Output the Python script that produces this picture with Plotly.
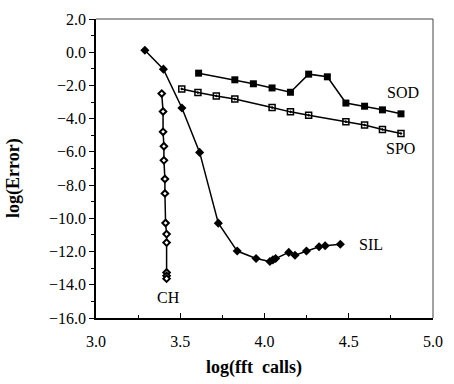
import plotly.graph_objects as go

SIL_x = [3.29, 3.40, 3.51, 3.615, 3.726, 3.838, 3.95, 4.032, 4.05, 4.066, 4.144, 4.181, 4.249, 4.324, 4.36, 4.45]
SIL_y = [0.12, -1.02, -3.36, -6.03, -10.29, -11.97, -12.42, -12.6, -12.5, -12.42, -12.05, -12.22, -11.97, -11.71, -11.65, -11.56]

CH_x = [3.39, 3.398, 3.398, 3.403, 3.403, 3.409, 3.409, 3.413, 3.419, 3.419, 3.419, 3.419, 3.419]
CH_y = [-2.49, -3.57, -4.79, -5.66, -6.51, -7.63, -8.5, -10.28, -10.95, -11.46, -13.26, -13.46, -13.63]

SOD_x = [3.609, 3.824, 3.934, 4.045, 4.154, 4.262, 4.373, 4.483, 4.594, 4.70, 4.81]
SOD_y = [-1.26, -1.66, -1.90, -2.15, -2.41, -1.32, -1.48, -3.06, -3.25, -3.47, -3.71]

SPO_x = [3.509, 3.605, 3.714, 3.824, 4.045, 4.154, 4.262, 4.483, 4.594, 4.70, 4.81]
SPO_y = [-2.21, -2.43, -2.63, -2.82, -3.33, -3.59, -3.79, -4.18, -4.38, -4.65, -4.89]

series_labels = ["SOD", "SPO", "SIL", "CH"]
label_x = [4.82, 4.81, 4.63, 3.43]
label_y = [-2.45, -5.8, -11.55, -14.75]

FONT = "Liberation Serif, Times New Roman, serif"
LINE = dict(color="black", width=1.5)

fig = go.Figure()
fig.add_trace(go.Scatter(x=SIL_x, y=SIL_y, mode="lines+markers", line=LINE,
                         marker=dict(symbol="diamond", size=7, color="black"), name="SIL"))
fig.add_trace(go.Scatter(x=CH_x, y=CH_y, mode="lines+markers", line=LINE,
                         marker=dict(symbol="diamond", size=5, color="white",
                                     line=dict(color="black", width=2)), name="CH"))
fig.add_trace(go.Scatter(x=SOD_x, y=SOD_y, mode="lines+markers", line=LINE,
                         marker=dict(symbol="square", size=7, color="black"), name="SOD"))
fig.add_trace(go.Scatter(x=SPO_x, y=SPO_y, mode="lines+markers", line=LINE,
                         marker=dict(symbol="square-open-dot", size=6, color="black",
                                     line=dict(width=1.5)), name="SPO"))

for t, xx, yy in zip(series_labels, label_x, label_y):
    fig.add_annotation(x=xx, y=yy, text=t, showarrow=False,
                       font=dict(family=FONT, size=16, color="black"))

fig.add_annotation(xref="paper", yref="paper", x=0.47, y=-0.165, yanchor="middle",
                   text="<b>log(fft\u00a0\u00a0calls)</b>", showarrow=False,
                   font=dict(family=FONT, size=18, color="black"))
fig.add_annotation(xref="paper", yref="paper", x=-0.245, y=0.47, xanchor="center",
                   text="<b>log(Error)</b>", textangle=-90, showarrow=False,
                   font=dict(family=FONT, size=18, color="black"))

fig.update_layout(
    width=454, height=384,
    margin=dict(l=96, r=11, t=13, b=66),
    paper_bgcolor="white", plot_bgcolor="white",
    showlegend=False,
    font=dict(family=FONT, size=16, color="black"),
    xaxis=dict(range=[3, 5], tickvals=[3.0, 3.5, 4.0, 4.5, 5.0], tickformat=".1f",
               ticks="inside", ticklen=5, tickwidth=1, tickcolor="black",
               minor=dict(dtick=0.25, ticks="inside", ticklen=3, tickcolor="black"),
               showline=True, linecolor="black", linewidth=1.5, mirror=False,
               showgrid=False, zeroline=False, ticklabelstandoff=8),
    yaxis=dict(range=[-16, 2], dtick=2, tick0=0, tickformat=".1f",
               ticks="outside", ticklen=5, tickwidth=1, tickcolor="black",
               minor=dict(dtick=1, ticks="outside", ticklen=3, tickcolor="black"),
               showline=True, linecolor="black", linewidth=1.5, mirror=False,
               showgrid=False, zeroline=False),
)
fig.add_shape(type="line", xref="paper", yref="paper", x0=0, x1=1, y0=1, y1=1,
              line=dict(color="#444", width=1))
fig.add_shape(type="line", xref="paper", yref="paper", x0=1, x1=1, y0=0, y1=1,
              line=dict(color="#444", width=1))

fig.write_html("out.html")
